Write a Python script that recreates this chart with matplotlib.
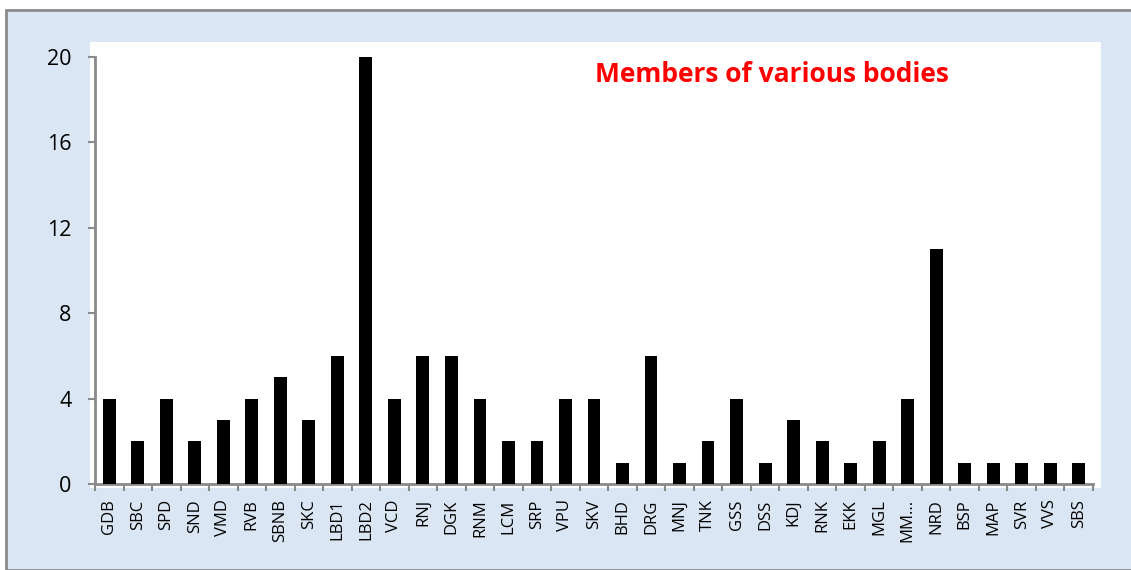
import matplotlib.pyplot as plt
from matplotlib.patches import Rectangle
import numpy as np

bodies = ["GDB", "SBC", "SPD", "SND", "VMD", "RVB", "SBNB", "SKC", "LBD1", "LBD2",
          "VCD", "RNJ", "DGK", "RNM", "LCM", "SRP", "VPU", "SKV", "BHD", "DRG",
          "MNJ", "TNK", "GSS", "DSS", "KDJ", "RNK", "EKK", "MGL", "MM...", "NRD",
          "BSP", "MAP", "SVR", "VVS", "SBS"]
members = [4, 2, 4, 2, 3, 4, 5, 3, 6, 20,
           4, 6, 6, 4, 2, 2, 4, 4, 1, 6,
           1, 2, 4, 1, 3, 2, 1, 2, 4, 11,
           1, 1, 1, 1, 1]
y_ticks = [0, 4, 8, 12, 16, 20]

W, H = 1131, 570
fig = plt.figure(figsize=(W / 100, H / 100), dpi=100)

# light blue backdrop with grey border, white plot panel
fig.patches.append(Rectangle((6 / W, 0), 1, 1 - 10 / H, transform=fig.transFigure,
                             facecolor="#dae6f3", edgecolor="#8a8a8a", lw=2, zorder=0))
fig.patches.append(Rectangle((90 / W, 1 - 488 / H), (1101 - 90) / W, (488 - 42) / H,
                             transform=fig.transFigure, facecolor="white",
                             edgecolor="none", zorder=1))

ax = fig.add_axes([95 / W, 1 - 484 / H, 998 / W, (484 - 42) / H])
ax.set_facecolor("none")
ax.set_zorder(3)

x = np.arange(len(bodies))
ax.bar(x, members, width=0.45, color="black", zorder=3)

ax.set_xlim(-0.5, len(bodies) - 0.5)
ax.set_ylim(0, 20.7)
ax.set_yticks(y_ticks)
ax.set_yticklabels([str(t) for t in y_ticks], fontsize=15.5, family="Open Sans")
ax.set_xticks(x)
ax.set_xticklabels(bodies, rotation=90, fontsize=12, family="Open Sans")
ax.set_xticks(np.arange(len(bodies) + 1) - 0.5, minor=True)
ax.tick_params(axis="x", which="major", length=0, pad=11)
ax.tick_params(axis="x", which="minor", length=5, color="#8a8a8a", width=1.5)
ax.tick_params(axis="y", length=5, color="#8a8a8a", width=1.5, pad=12)

for s in ["top", "right"]:
    ax.spines[s].set_visible(False)
ax.spines["left"].set_bounds(0, 20)
for s in ["left", "bottom"]:
    ax.spines[s].set_color("#8a8a8a")
    ax.spines[s].set_linewidth(2)

fig.text(772 / W, 1 - 75 / H, "Members of various bodies", color="#ff0000",
         fontsize=19, fontweight="bold", ha="center", va="center", family="Open Sans",
         zorder=4)

fig.savefig("out.png", dpi=100)
